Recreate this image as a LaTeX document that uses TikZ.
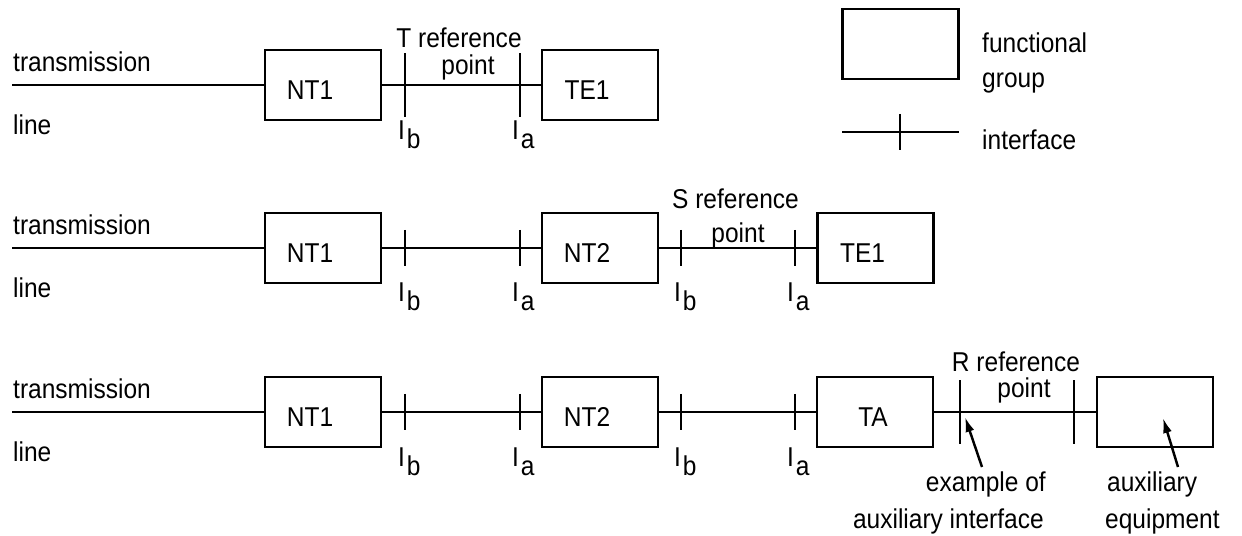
\documentclass[tikz,border=0pt]{standalone}
\usepackage{fontspec}
\setmainfont{Liberation Sans}[FakeStretch=0.9]
\usetikzlibrary{arrows.meta}
\begin{document}
\begin{tikzpicture}[x=0.02cm,y=-0.02cm,line width=1.4pt,
  fgbox/.style={draw,minimum width=2.32cm,minimum height=1.4cm,inner sep=0pt},
  txt/.style={font=\fontsize{15.5}{18}\selectfont,inner sep=0pt},
  ifmark/.style={line width=1.4pt},
  note/.style={-{Latex[length=3mm,width=1.8mm]},line width=1.4pt}]
\useasboundingbox (0,0) rectangle (1242,536);
\newcommand{\Ib}{I\kern1pt\raisebox{-0.3em}{b}}
\newcommand{\Ia}{I\kern1pt\raisebox{-0.3em}{a}}
% ---------- row 1 ----------
\node[txt,anchor=base west] (tr1) at (12,72) {transmission};
\node[txt,anchor=base west] (ln1) at (12,135) {line};
\coordinate (s1) at (12,85);
\node[fgbox] (nt1a) at (323,85) {};
\node[fgbox] (te1a) at (600,85) {};
\node[txt,anchor=base] at ([shift={(-13,15)}]nt1a.center) {NT1};
\node[txt,anchor=base] at ([shift={(-13,15)}]te1a.center) {TE1};
\draw (s1) -- (nt1a.west);
\draw (nt1a.east) -- (te1a.west);
\coordinate (i1b) at (405,85);
\coordinate (i1a) at (520,85);
\foreach \c in {i1b,i1a} \draw[ifmark] ([yshift=-18]\c) -- ([yshift=18]\c);
\node[txt,anchor=base west] at (397,140) {\Ib};
\node[txt,anchor=base west] at (511,140) {\Ia};
\node[txt,anchor=base] at (459,48) {T reference};
\node[txt,anchor=base] at (468,75) {point};
% ---------- legend ----------
\node[fgbox] (leg) at (900.5,44) {};
\node[txt,anchor=base west] at (981,53) {functional};
\node[txt,anchor=base west] at (981,88) {group};
\coordinate (l1) at (842,132);
\coordinate (l2) at (959,132);
\draw (l1) -- (l2);
\draw[ifmark] (900,114) -- (900,150);
\node[txt,anchor=base west] at (981,150) {interface};
% ---------- row 2 ----------
\node[txt,anchor=base west] (tr2) at (12,235) {transmission};
\node[txt,anchor=base west] (ln2) at (12,298) {line};
\coordinate (s2) at (12,248);
\node[fgbox] (nt1b) at (323,248) {};
\node[fgbox] (nt2b) at (600,248) {};
\node[fgbox] (te1b) at (875.5,248) {};
\node[txt,anchor=base] at ([shift={(-13,15)}]nt1b.center) {NT1};
\node[txt,anchor=base] at ([shift={(-13,15)}]nt2b.center) {NT2};
\node[txt,anchor=base] at ([shift={(-13,15)}]te1b.center) {TE1};
\draw (s2) -- (nt1b.west);
\draw (nt1b.east) -- (nt2b.west);
\draw (nt2b.east) -- (te1b.west);
\foreach \x in {405,520,681,795} \draw[ifmark] (\x,230) -- (\x,266);
\node[txt,anchor=base west] at (397,302) {\Ib};
\node[txt,anchor=base west] at (511,302) {\Ia};
\node[txt,anchor=base west] at (673,302) {\Ib};
\node[txt,anchor=base west] at (786,302) {\Ia};
\node[txt,anchor=base] at (735.5,209) {S reference};
\node[txt,anchor=base] at (738,243) {point};
% ---------- row 3 ----------
\node[txt,anchor=base west] (tr3) at (12,399) {transmission};
\node[txt,anchor=base west] (ln3) at (12,462) {line};
\coordinate (s3) at (12,412);
\node[fgbox] (nt1c) at (323,412) {};
\node[fgbox] (nt2c) at (600,412) {};
\node[fgbox] (tac) at (875,412) {};
\node[fgbox] (aux) at (1155,412) {};
\node[txt,anchor=base] at ([shift={(-13,15)}]nt1c.center) {NT1};
\node[txt,anchor=base] at ([shift={(-13,15)}]nt2c.center) {NT2};
\node[txt,anchor=base] at ([shift={(-2,15)}]tac.center) {TA};
\draw (s3) -- (nt1c.west);
\draw (nt1c.east) -- (nt2c.west);
\draw (nt2c.east) -- (tac.west);
\draw (tac.east) -- (aux.west);
\foreach \x in {405,520,681,795} \draw[ifmark] (\x,394) -- (\x,430);
\coordinate (rif) at (960,412);
\coordinate (rif2) at (1074,412);
\foreach \c in {rif,rif2} \draw[ifmark] ([yshift=-18]\c) -- ([yshift=18]\c);
\node[txt,anchor=base west] at (397,467) {\Ib};
\node[txt,anchor=base west] at (511,467) {\Ia};
\node[txt,anchor=base west] at (673,467) {\Ib};
\node[txt,anchor=base west] at (786,467) {\Ia};
\node[txt,anchor=base] at (1016,372) {R reference};
\node[txt,anchor=base] at (1024,398) {point};
\node[txt,anchor=base east] (ex1) at (1047,492) {example of};
\node[txt,anchor=base east] (ex2) at (1045,529) {auxiliary interface};
\node[txt,anchor=base west] (ae1) at (1106,492) {auxiliary};
\node[txt,anchor=base west] (ae2) at (1104,529) {equipment};
\coordinate (a1t) at (982,467);
\coordinate (a1h) at (965,417);
\coordinate (a2t) at (1178,467);
\coordinate (a2h) at (1163,418);
\draw[note] (a1t) -- (a1h);
\draw[note] (a2t) -- (a2h);
\end{tikzpicture}
\end{document}
